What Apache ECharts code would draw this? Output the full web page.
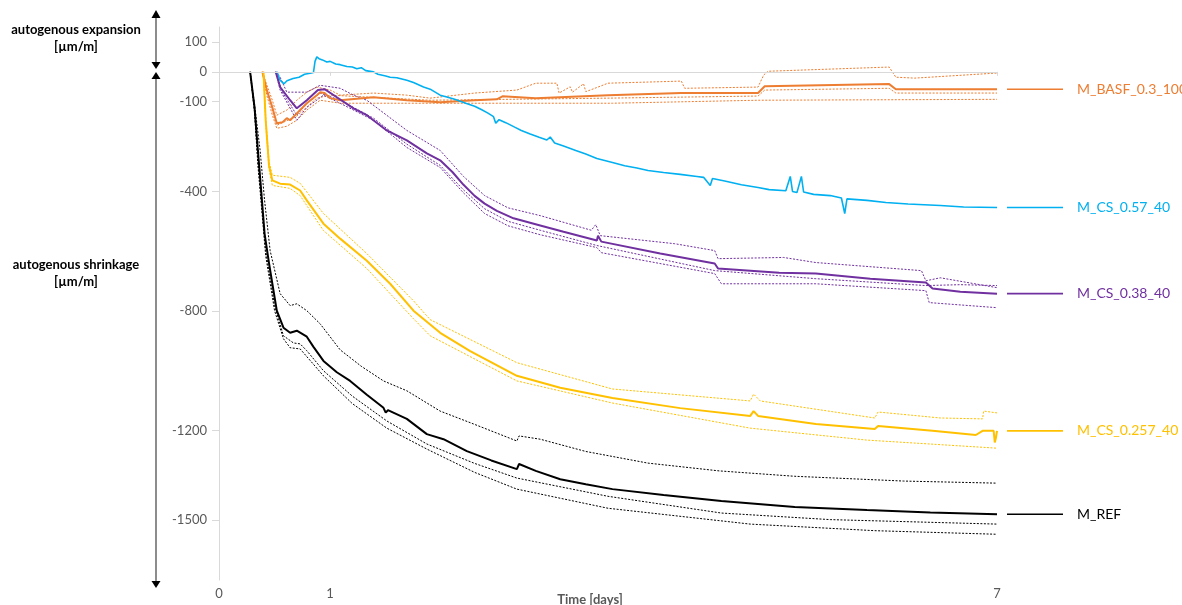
<!DOCTYPE html>
<html>
<head>
<meta charset="utf-8">
<title>Autogenous deformation</title>
<script src="https://cdn.jsdelivr.net/npm/echarts@6/dist/echarts.min.js"></script>
<style>
  html, body { margin: 0; padding: 0; background: #fff; }
  #chart { width: 1182px; height: 605px; }
</style>
</head>
<body>
<div id="chart"></div>
<script>
// Time in days, deformation in µm/m: [t, value]
const xTicks = [0, 1, 7];
const yTicks = [100, 0, -100, -400, -800, -1200, -1500];

const seriesNames = ['M_BASF_0.3_100', 'M_CS_0.57_40', 'M_CS_0.38_40', 'M_CS_0.257_40', 'M_REF'];
const seriesColors = ['#ED7D31', '#00B0F0', '#7030A0', '#FFC000', '#000000'];

// M_BASF_0.3_100
const basfMean = [[0.39,0],[0.43,-61],[0.48,-119],[0.52,-172],[0.57,-169],[0.61,-155],[0.64,-162],[0.70,-139],[0.79,-105],[0.88,-78],[0.91,-68],[0.95,-71],[1.0,-88],[1.09,-95],[1.39,-85],[1.69,-95],[1.99,-102],[2.30,-95],[2.5,-92],[2.55,-82],[2.85,-88],[3.5,-78],[4.16,-71],[4.85,-71],[4.91,-48],[6.03,-41],[6.09,-58],[7.0,-58]];
const basfS1 = [[0.39,0],[0.43,-44],[0.48,-95],[0.52,-145],[0.61,-128],[0.70,-95],[0.79,-68],[0.88,-51],[1.0,-61],[1.09,-78],[1.39,-71],[1.69,-78],[1.90,-88],[2.30,-71],[2.68,-61],[2.85,-38],[3.04,-38],[3.06,-71],[3.16,-50],[3.18,-68],[3.28,-40],[3.30,-66],[3.34,-61],[3.50,-38],[4.16,-31],[4.19,-55],[4.85,-51],[4.90,-11],[4.94,2],[6.03,16],[6.09,-18],[6.26,-21],[7.0,-4]];
const basfS2 = [[0.39,0],[0.48,-128],[0.52,-179],[0.70,-148],[0.88,-88],[1.0,-78],[1.90,-95],[3.5,-88],[4.85,-81],[4.91,-61],[6.03,-55],[6.09,-71],[7.0,-71]];
const basfS3 = [[0.39,0],[0.43,-78],[0.48,-145],[0.52,-189],[0.61,-182],[0.70,-162],[0.79,-128],[0.91,-95],[1.09,-105],[1.90,-105],[3.54,-105],[4.85,-95],[7.0,-92]];

// M_CS_0.57_40
const cs57Mean = [[0.522,0],[0.549,-28],[0.585,-40],[0.612,-30],[0.666,-22],[0.72,-18],[0.77,-8],[0.82,-5],[0.85,-2],[0.864,35],[0.88,50],[0.9,44],[0.93,40],[0.97,33],[1.0,35],[1.05,26],[1.09,24],[1.15,18],[1.2,16],[1.24,10],[1.28,14],[1.32,4],[1.39,0],[1.43,-8],[1.5,-14],[1.54,-18],[1.6,-20],[1.69,-28],[1.75,-36],[1.84,-51],[1.9,-58],[1.99,-78],[2.05,-84],[2.12,-92],[2.22,-105],[2.3,-115],[2.36,-126],[2.42,-138],[2.47,-150],[2.49,-172],[2.52,-160],[2.58,-170],[2.66,-185],[2.72,-196],[2.8,-208],[2.88,-219],[2.95,-228],[2.98,-218],[3.02,-238],[3.1,-248],[3.21,-263],[3.3,-275],[3.4,-290],[3.54,-303],[3.65,-314],[3.76,-322],[3.86,-330],[4.0,-337],[4.15,-343],[4.3,-350],[4.36,-353],[4.42,-380],[4.44,-357],[4.55,-365],[4.7,-378],[4.85,-387],[4.95,-394],[5.1,-398],[5.14,-350],[5.16,-400],[5.2,-404],[5.24,-350],[5.26,-402],[5.35,-410],[5.5,-414],[5.6,-422],[5.63,-474],[5.65,-425],[5.83,-430],[6.0,-437],[6.2,-442],[6.49,-447],[6.7,-452],[7.0,-454]];

// M_CS_0.38_40
const cs38Mean = [[0.51,0],[0.55,-51],[0.64,-95],[0.70,-122],[0.79,-95],[0.89,-61],[0.95,-58],[1.06,-85],[1.21,-122],[1.33,-145],[1.51,-196],[1.69,-229],[1.87,-273],[1.99,-296],[2.1,-335],[2.2,-378],[2.3,-415],[2.39,-441],[2.5,-465],[2.65,-490],[2.89,-514],[3.1,-535],[3.40,-564],[3.41,-548],[3.44,-568],[3.97,-608],[4.46,-641],[4.49,-658],[5.04,-672],[5.37,-675],[5.86,-692],[6.36,-705],[6.42,-725],[6.67,-736],[7.0,-742]];
const cs38S1 = [[0.51,0],[0.55,-18],[0.61,-68],[0.79,-68],[0.91,-45],[1.09,-55],[1.21,-78],[1.33,-95],[1.69,-196],[1.99,-263],[2.2,-350],[2.39,-414],[2.6,-455],[2.89,-481],[3.35,-530],[3.39,-511],[3.43,-548],[4.10,-575],[4.46,-598],[4.49,-625],[5.08,-621],[5.37,-638],[6.32,-665],[6.36,-699],[6.49,-689],[7.0,-722]];
const cs38S2 = [[0.51,0],[0.57,-68],[0.70,-145],[0.79,-105],[0.91,-71],[1.09,-95],[1.39,-155],[1.69,-242],[1.99,-313],[2.2,-395],[2.39,-458],[2.6,-500],[2.89,-530],[3.40,-581],[4.46,-665],[5.37,-692],[6.36,-715],[6.67,-712],[7.0,-715]];
const cs38S3 = [[0.51,0],[0.55,-61],[0.70,-162],[0.79,-119],[0.94,-78],[1.09,-105],[1.39,-162],[1.69,-253],[1.99,-320],[2.2,-405],[2.39,-474],[2.6,-515],[2.89,-545],[3.40,-588],[3.44,-605],[4.46,-675],[4.52,-709],[5.37,-709],[6.36,-732],[6.39,-772],[7.0,-789]];

// M_CS_0.257_40
const cs257Mean = [[0.40,0],[0.42,-162],[0.45,-313],[0.48,-363],[0.55,-374],[0.64,-377],[0.73,-397],[0.79,-430],[0.94,-508],[1.09,-558],[1.33,-632],[1.54,-709],[1.75,-799],[1.99,-873],[2.26,-934],[2.68,-1017],[3.07,-1057],[3.54,-1091],[4.15,-1125],[4.78,-1151],[4.81,-1135],[4.85,-1151],[5.37,-1178],[5.90,-1195],[5.93,-1185],[6.42,-1201],[6.81,-1215],[6.87,-1201],[6.97,-1201],[6.98,-1240],[6.99,-1225],[7.0,-1201]];
const cs257S1 = [[0.40,0],[0.42,-150],[0.45,-300],[0.48,-346],[0.64,-353],[0.73,-373],[0.94,-474],[1.33,-608],[1.75,-766],[1.90,-829],[2.68,-973],[3.54,-1061],[4.78,-1101],[4.81,-1078],[4.87,-1101],[5.90,-1158],[5.93,-1138],[6.49,-1158],[6.87,-1161],[6.88,-1135],[7.0,-1141]];
const cs257S2 = [[0.40,0],[0.42,-170],[0.45,-325],[0.48,-380],[0.64,-390],[0.73,-414],[0.94,-531],[1.33,-658],[1.75,-826],[1.90,-883],[2.68,-1034],[3.54,-1108],[4.78,-1192],[5.83,-1232],[7.0,-1259]];

// M_REF
const refMean = [[0.28,0],[0.32,-120],[0.35,-263],[0.38,-400],[0.41,-541],[0.45,-640],[0.48,-709],[0.52,-799],[0.58,-856],[0.64,-873],[0.70,-866],[0.79,-886],[0.85,-920],[0.94,-967],[1.06,-1005],[1.18,-1034],[1.33,-1080],[1.48,-1124],[1.50,-1140],[1.52,-1132],[1.69,-1161],[1.87,-1212],[2.02,-1229],[2.23,-1269],[2.45,-1300],[2.68,-1329],[2.70,-1312],[2.85,-1335],[3.07,-1363],[3.3,-1380],[3.54,-1396],[4.0,-1416],[4.52,-1436],[5.18,-1456],[5.83,-1466],[6.4,-1474],[7.0,-1480]];
const refS1 = [[0.28,0],[0.32,-110],[0.37,-263],[0.41,-430],[0.46,-598],[0.55,-742],[0.64,-782],[0.70,-776],[0.79,-799],[0.91,-843],[1.09,-930],[1.28,-985],[1.48,-1034],[1.69,-1067],[1.99,-1135],[2.29,-1178],[2.68,-1235],[2.70,-1218],[2.89,-1229],[3.3,-1270],[3.86,-1309],[4.5,-1335],[5.18,-1353],[6.16,-1369],[7.0,-1376]];
const refS2 = [[0.28,0],[0.32,-130],[0.35,-296],[0.42,-598],[0.50,-782],[0.58,-883],[0.67,-907],[0.73,-910],[0.79,-933],[0.94,-1000],[1.2,-1085],[1.51,-1168],[1.87,-1245],[2.3,-1310],[2.68,-1359],[3.5,-1420],[4.52,-1476],[5.5,-1498],[7.0,-1513]];
const refS3 = [[0.28,0],[0.32,-135],[0.35,-313],[0.42,-615],[0.50,-799],[0.58,-893],[0.64,-923],[0.73,-927],[0.94,-1017],[1.2,-1110],[1.51,-1192],[1.87,-1262],[2.3,-1340],[2.68,-1396],[3.5,-1460],[4.78,-1513],[5.9,-1535],[7.0,-1547]];

const FONT = 'Lato, "Open Sans", sans-serif';

function specimen(data, color) {
  return {
    type: 'line', data: data, showSymbol: false, silent: true, z: 2,
    lineStyle: { color: color, width: 1, type: [2, 1.5] }
  };
}

function mean(data, idx, width) {
  const color = seriesColors[idx];
  return {
    name: seriesNames[idx], type: 'line', data: data, showSymbol: false, silent: true, z: 3,
    lineStyle: { color: color, width: width },
    endLabel: {
      show: true, distance: 10,
      formatter: '{bar|}{gap|}{txt|' + seriesNames[idx] + '}',
      rich: {
        bar: { width: 56, height: 1.6, backgroundColor: color, verticalAlign: 'middle' },
        gap: { width: 14, verticalAlign: 'middle' },
        txt: { color: color, fontSize: 14, fontFamily: FONT, verticalAlign: 'middle' }
      }
    }
  };
}

const chart = echarts.init(document.getElementById('chart'), null, { renderer: 'canvas' });

const arrowColor = '#404040';
const plainNumber = function (v) { return String(v); };
const option = {
  animation: false,
  backgroundColor: '#ffffff',
  grid: { left: 219, right: 185, top: 27, bottom: 25, containLabel: false, outerBoundsMode: 'none' },
  xAxis: {
    type: 'value', min: 0, max: 7, interval: 1,
    name: 'Time [days]', nameLocation: 'middle', nameGap: 13, nameMoveOverlap: false,
    nameTextStyle: { color: '#595959', fontSize: 13, fontWeight: 'bold', fontFamily: FONT, padding: [0, 36, 0, 0], verticalAlign: 'top' },
    axisLine: { show: true, lineStyle: { color: '#d9d9d9', width: 1 } },
    axisTick: { show: true, length: 4, lineStyle: { color: '#d9d9d9' }, customValues: xTicks },
    axisLabel: { color: '#595959', fontSize: 13, fontFamily: FONT, margin: 7, customValues: xTicks, formatter: plainNumber },
    splitLine: { show: false }
  },
  yAxis: {
    type: 'value', min: -1700, max: 150,
    axisLine: { show: true, lineStyle: { color: '#d9d9d9', width: 1 } },
    axisTick: { show: true, length: 7, lineStyle: { color: '#d9d9d9' }, customValues: yTicks },
    axisLabel: { color: '#595959', fontSize: 13, fontFamily: FONT, margin: 12, customValues: yTicks, formatter: plainNumber },
    splitLine: { show: false }
  },
  graphic: [
    { type: 'line', shape: { x1: 156, y1: 14, x2: 156, y2: 64 }, style: { stroke: arrowColor, lineWidth: 1.2 } },
    { type: 'polygon', shape: { points: [[151.5, 18], [160.5, 18], [156, 10]] }, style: { fill: '#000' } },
    { type: 'polygon', shape: { points: [[151.5, 62], [160.5, 62], [156, 69]] }, style: { fill: '#000' } },
    { type: 'line', shape: { x1: 156, y1: 76, x2: 156, y2: 584 }, style: { stroke: arrowColor, lineWidth: 1.2 } },
    { type: 'polygon', shape: { points: [[151.5, 79], [160.5, 79], [156, 72]] }, style: { fill: '#000' } },
    { type: 'polygon', shape: { points: [[151.5, 581], [160.5, 581], [156, 588]] }, style: { fill: '#000' } },
    { type: 'text', x: 76, y: 30, style: { text: 'autogenous expansion', fill: '#000', font: 'bold 13px ' + FONT, textAlign: 'center', textVerticalAlign: 'middle' } },
    { type: 'text', x: 76, y: 47, style: { text: '[µm/m]', fill: '#000', font: 'bold 13px ' + FONT, textAlign: 'center', textVerticalAlign: 'middle' } },
    { type: 'text', x: 76, y: 265, style: { text: 'autogenous shrinkage', fill: '#000', font: 'bold 13px ' + FONT, textAlign: 'center', textVerticalAlign: 'middle' } },
    { type: 'text', x: 76, y: 282, style: { text: '[µm/m]', fill: '#000', font: 'bold 13px ' + FONT, textAlign: 'center', textVerticalAlign: 'middle' } }
  ],
  series: [
    // zero line
    {
      type: 'line', data: [], silent: true, z: 1,
      markLine: {
        silent: true, symbol: 'none', label: { show: false },
        lineStyle: { color: '#d9d9d9', width: 1, type: 'solid' },
        data: [{ yAxis: 0 }]
      }
    },
    specimen(basfS1, seriesColors[0]), specimen(basfS2, seriesColors[0]), specimen(basfS3, seriesColors[0]),
    specimen(cs38S1, seriesColors[2]), specimen(cs38S2, seriesColors[2]), specimen(cs38S3, seriesColors[2]),
    specimen(cs257S1, seriesColors[3]), specimen(cs257S2, seriesColors[3]),
    specimen(refS1, seriesColors[4]), specimen(refS2, seriesColors[4]), specimen(refS3, seriesColors[4]),
    mean(basfMean, 0, 2),
    mean(cs57Mean, 1, 1.6),
    mean(cs38Mean, 2, 2),
    mean(cs257Mean, 3, 2),
    mean(refMean, 4, 2)
  ]
};
chart.setOption(option);
</script>
</body>
</html>
